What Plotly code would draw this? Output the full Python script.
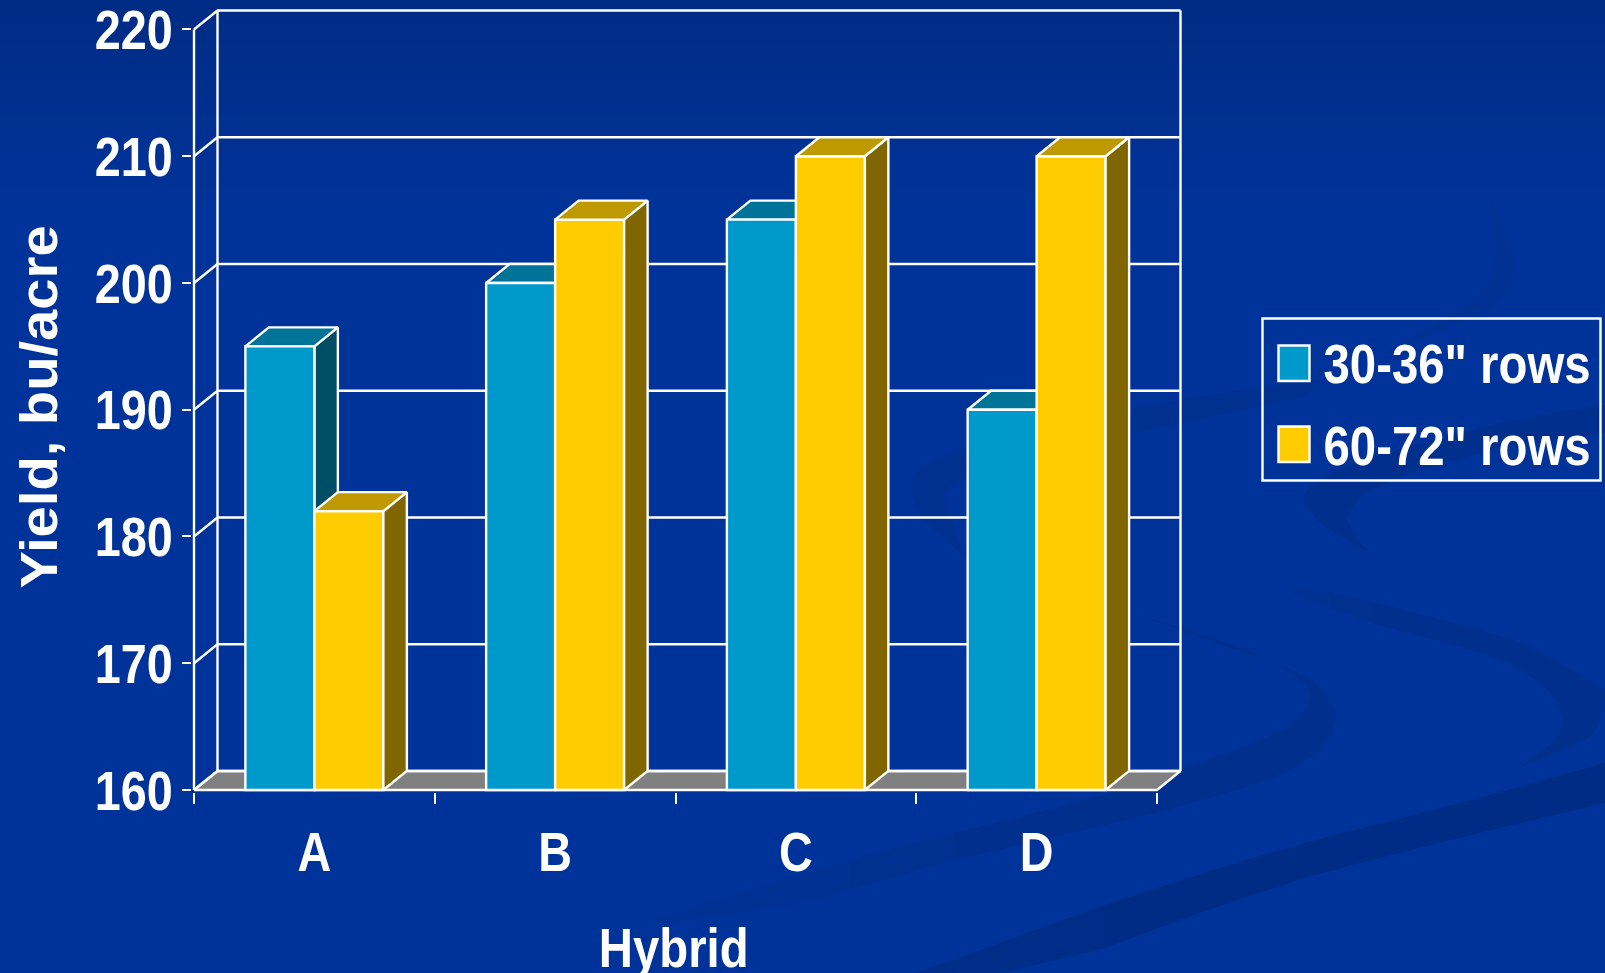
import plotly.graph_objects as go

# Yield by hybrid and row spacing
hybrids = ["A", "B", "C", "D"]
narrow_rows = [195, 200, 205, 190]
wide_rows = [182, 205, 210, 210]
series_names = ['30-36" rows', '60-72" rows']
y_ticks = [160, 170, 180, 190, 200, 210, 220]
x_title = "Hybrid"
y_title = "Yield, bu/acre"

WIDTH, HEIGHT = 1605, 973
FONT = "Liberation Sans, Arial"
WHITE = "#ffffff"
BLUE = ("#0099cc", "#007399", "#004d66")     # front, top, side
GOLD = ("#ffcc00", "#bf9900", "#806600")
FLOOR = "#808080"
LINE_W = 2.4

# Oblique projection of the chart depth, in axis units
DEPTH_X = 0.0976
DEPTH_Y = 1.5
BAR_W = 0.2866
Y_BASE, Y_TOP = y_ticks[0], y_ticks[-1]
n = len(hybrids)

# Front plane of the chart on the page, and the scale that follows from it
FRONT_LEFT, FRONT_RIGHT = 194, 1157
FRONT_BOTTOM, FRONT_TOP = 790, 29.5
SCALE_X = (FRONT_RIGHT - FRONT_LEFT) / n
SCALE_Y = (FRONT_BOTTOM - FRONT_TOP) / (Y_TOP - Y_BASE)
PAD = 2     # keeps the outermost white lines from being clipped


def px_x(x):
    return x / WIDTH


def px_y(y):
    return 1 - y / HEIGHT


def smooth_path(*segments):
    """Closed SVG path in paper units; each segment is smoothed, joins stay sharp."""
    d = []
    for s_i, seg in enumerate(segments):
        pts = [(px_x(x), px_y(y)) for x, y in seg]
        cmd = "M" if s_i == 0 else "L"
        d.append(f"{cmd}{pts[0][0]:.5f},{pts[0][1]:.5f}")
        for i in range(1, len(pts) - 1):
            mx = (pts[i][0] + pts[i + 1][0]) / 2
            my = (pts[i][1] + pts[i + 1][1]) / 2
            if i == len(pts) - 2:
                mx, my = pts[i + 1]
            d.append(f"Q{pts[i][0]:.5f},{pts[i][1]:.5f} {mx:.5f},{my:.5f}")
        if len(pts) == 2:
            d.append(f"L{pts[1][0]:.5f},{pts[1][1]:.5f}")
    return " ".join(d) + " Z"


# Slide background: darker band fading out near the top, then the ribbons
shapes = []
BANDS = 24
for i in range(BANDS):
    t = i / (BANDS - 1)
    g = round(0x2c + (0x33 - 0x2c) * t)
    b = round(0x85 + (0x99 - 0x85) * t)
    shapes.append(dict(type="rect", xref="paper", yref="paper", layer="below",
                       x0=0, x1=1, y0=px_y(i * 9), y1=px_y((i + 1) * 9 + 1),
                       fillcolor=f"rgb(0,{g},{b})", line_width=0))

RIBBON = "#002f8d"
MID = "#003090"
FAINT = "#003193"
ribbons = [
    # long band across the lower right, fading towards the bottom edge
    (smooth_path([(1605, 763), (1438, 810), (1272, 850), (1105, 905)],
                 [(1105, 948), (1238, 897), (1405, 850), (1605, 803)]), "#002c85"),
    (smooth_path([(1105, 905), (953, 960), (915, 973)],
                 [(1000, 973), (1105, 948)]), "#002d88"),
    # swoosh curling round behind the axis corner, fading along its tail
    (smooth_path([(1130, 612), (1222, 640), (1278, 663), (1305, 683), (1312, 697), (1302, 717),
                  (1265, 740), (1205, 760), (1120, 793), (953, 833)],
                 [(953, 860), (1120, 822), (1185, 805), (1272, 780),
                  (1322, 752), (1338, 723), (1332, 700), (1305, 673), (1222, 645), (1130, 612)]), RIBBON),
    (smooth_path([(953, 833), (850, 860)], [(850, 890), (953, 860)]), MID),
    (smooth_path([(850, 860), (787, 877), (640, 925)], [(640, 925), (787, 910), (850, 890)]), FAINT),
    # swoosh leaving the right edge, fading at its thin end
    (smooth_path([(1372, 602), (1472, 627), (1538, 647), (1605, 690)],
                 [(1605, 690), (1605, 730), (1560, 752), (1518, 768)],
                 [(1518, 768), (1552, 745), (1565, 723), (1552, 690), (1505, 660), (1472, 650),
                  (1372, 623)]), RIBBON),
    (smooth_path([(1330, 592), (1372, 602)], [(1372, 623), (1330, 608)]), MID),
    (smooth_path([(1292, 586), (1330, 592)], [(1330, 608), (1292, 594)]), FAINT),
    # swoosh under the legend
    (smooth_path([(1605, 405), (1522, 417), (1422, 443), (1338, 467), (1305, 490), (1303, 503),
                  (1322, 527), (1368, 552)],
                 [(1368, 552), (1348, 527), (1347, 513), (1368, 490), (1438, 463), (1522, 443),
                  (1605, 433)]), RIBBON),
    # faint tail reaching up to the right
    (smooth_path([(1490, 200), (1518, 255), (1510, 295), (1470, 320), (1322, 380)],
                 [(1322, 380), (1305, 397), (1480, 300), (1500, 260), (1490, 200)]), FAINT),
    # swoosh behind the plot
    (smooth_path([(1322, 380), (1155, 400), (983, 445), (921, 461), (909, 486), (921, 522), (967, 558)],
                 [(967, 558), (942, 502), (947, 486), (983, 471), (1155, 427), (1305, 397)]), MID),
]
for path, colour in ribbons:
    shapes.append(dict(type="path", xref="paper", yref="paper", layer="below",
                       path=path, fillcolor=colour, line_width=0))

fig = go.Figure()


def poly(xs, ys, fill, axes=("x", "y")):
    fig.add_trace(go.Scatter(x=xs, y=ys, mode="lines", fill="toself" if fill else None,
                             fillcolor=fill, line=dict(color=WHITE, width=LINE_W),
                             xaxis=axes[0], yaxis=axes[1],
                             hoverinfo="skip", showlegend=False))


# Floor, back wall with gridlines, left wall with its obliques
poly([0, DEPTH_X, n + DEPTH_X, n, 0],
     [Y_BASE, Y_BASE + DEPTH_Y, Y_BASE + DEPTH_Y, Y_BASE, Y_BASE], FLOOR)
for tick in y_ticks:
    poly([0, DEPTH_X, n + DEPTH_X], [tick, tick + DEPTH_Y, tick + DEPTH_Y], None)
poly([0, 0], [Y_BASE, Y_TOP], None)
for wall_x in (DEPTH_X, n + DEPTH_X):
    poly([wall_x, wall_x], [Y_BASE + DEPTH_Y, Y_TOP + DEPTH_Y], None)


def depth_faces(left, value, colours, axes):
    right = left + BAR_W
    poly([right, right + DEPTH_X, right + DEPTH_X, right, right],
         [Y_BASE, Y_BASE + DEPTH_Y, value + DEPTH_Y, value, Y_BASE], colours[2], axes)
    poly([left, left + DEPTH_X, right + DEPTH_X, right, left],
         [value, value + DEPTH_Y, value + DEPTH_Y, value, value], colours[1], axes)


# Depth faces of the first series sit under both sets of fronts
for i, v in enumerate(narrow_rows):
    depth_faces(i + 0.5 - BAR_W, v, BLUE, ("x", "y"))

centres = [i + 0.5 for i in range(n)]
for name, vals, colours, offset in ((series_names[0], narrow_rows, BLUE, -BAR_W),
                                    (series_names[1], wide_rows, GOLD, 0)):
    fig.add_trace(go.Bar(x=centres, y=[v - Y_BASE for v in vals], base=Y_BASE, name=name,
                         width=BAR_W, offset=offset,
                         marker=dict(color=colours[0], line=dict(color=WHITE, width=LINE_W)),
                         xaxis="x2", yaxis="y2", showlegend=False))

for i, v in enumerate(wide_rows):
    depth_faces(i + 0.5, v, GOLD, ("x2", "y2"))

# Key drawn at slide scale
LEGEND_BOX = (1262.5, 318.5, 1600.5, 480.5)
shapes.append(dict(type="rect", xref="paper", yref="paper", layer="above",
                   x0=px_x(LEGEND_BOX[0]), x1=px_x(LEGEND_BOX[2]),
                   y0=px_y(LEGEND_BOX[3]), y1=px_y(LEGEND_BOX[1]),
                   line=dict(color=WHITE, width=LINE_W), fillcolor="rgba(0,0,0,0)"))
label_font = dict(family=FONT, size=56, color=WHITE, weight=700)
annotations = []
for name, colours, top, mid in ((series_names[0], BLUE, 345.5, 363.5), (series_names[1], GOLD, 426.5, 445.5)):
    shapes.append(dict(type="rect", xref="paper", yref="paper", layer="above",
                       x0=px_x(1278.5), x1=px_x(1309.5), y0=px_y(top + 35.5), y1=px_y(top),
                       fillcolor=colours[0], line=dict(color=WHITE, width=LINE_W)))
    annotations.append(dict(text=name, xref="paper", yref="paper", x=px_x(1456.5), y=px_y(mid),
                            xanchor="center", yanchor="middle", showarrow=False, font=label_font))

annotations.append(dict(text=x_title, xref="paper", yref="paper", x=px_x(673.5), y=px_y(947),
                        xanchor="center", yanchor="middle", showarrow=False, font=label_font))
annotations.append(dict(text=y_title, xref="paper", yref="paper", x=px_x(39), y=px_y(407),
                        xanchor="center", yanchor="middle", showarrow=False, textangle=-90,
                        font=dict(family=FONT, size=52, color=WHITE, weight=700)))

x_domain = [px_x(FRONT_LEFT - PAD), px_x(FRONT_RIGHT + DEPTH_X * SCALE_X + PAD)]
y_domain = [px_y(FRONT_BOTTOM + PAD), px_y(FRONT_TOP - DEPTH_Y * SCALE_Y - PAD)]
x_range = [-PAD / SCALE_X, n + DEPTH_X + PAD / SCALE_X]
y_range = [Y_BASE - PAD / SCALE_Y, Y_TOP + DEPTH_Y + PAD / SCALE_Y]

fig.update_layout(
    width=WIDTH, height=HEIGHT, autosize=False,
    margin=dict(l=0, r=0, t=0, b=0, pad=0),
    paper_bgcolor="#003399", plot_bgcolor="rgba(0,0,0,0)",
    barmode="overlay", showlegend=False, shapes=shapes, annotations=annotations,
    xaxis=dict(domain=x_domain, range=x_range, automargin=False, showgrid=False, zeroline=False,
               showline=False, tickmode="array", tickvals=centres, ticktext=hybrids, ticks="",
               tickfont=label_font, ticklabelstandoff=22, ticklabeloverflow="allow",
               minor=dict(tickmode="array", tickvals=list(range(n + 1)), ticks="outside",
                          ticklen=11, tickwidth=2, tickcolor=WHITE, showgrid=False)),
    yaxis=dict(domain=y_domain, range=y_range, automargin=False, showgrid=False, zeroline=False,
               showline=False, tickmode="array", tickvals=y_ticks, ticks="outside", ticklen=9,
               tickwidth=2, tickcolor=WHITE, tickfont=label_font, ticklabelstandoff=-2,
               ticklabeloverflow="allow"),
    xaxis2=dict(domain=x_domain, range=x_range, overlaying="x", anchor="y2", visible=False),
    yaxis2=dict(domain=y_domain, range=y_range, overlaying="y", anchor="x2", visible=False),
)

# Slide lettering is set narrower than the regular bold face; the rotated title runs slightly wider
narrow_text = """
var fit = function (el, k, toRight) {
    var b = el.getBBox();
    var cx = toRight ? b.x + b.width : b.x + b.width / 2;
    var prior = el.getAttribute('transform') || '';
    el.setAttribute('transform', prior + ' translate(' + cx + ' 0) scale(' + k + ' 1) translate(' + (-cx) + ' 0)');
};
document.querySelectorAll('.ytick text').forEach(function (el) { fit(el, 0.835, true); });
document.querySelectorAll('.xtick text').forEach(function (el) { fit(el, 0.835, false); });
document.querySelectorAll('text.annotation-text').forEach(function (el) {
    fit(el, el.textContent.indexOf('Yield') === 0 ? 1.08 : 0.845, false);
});
"""
fig.write_html("out.html", post_script=narrow_text)
